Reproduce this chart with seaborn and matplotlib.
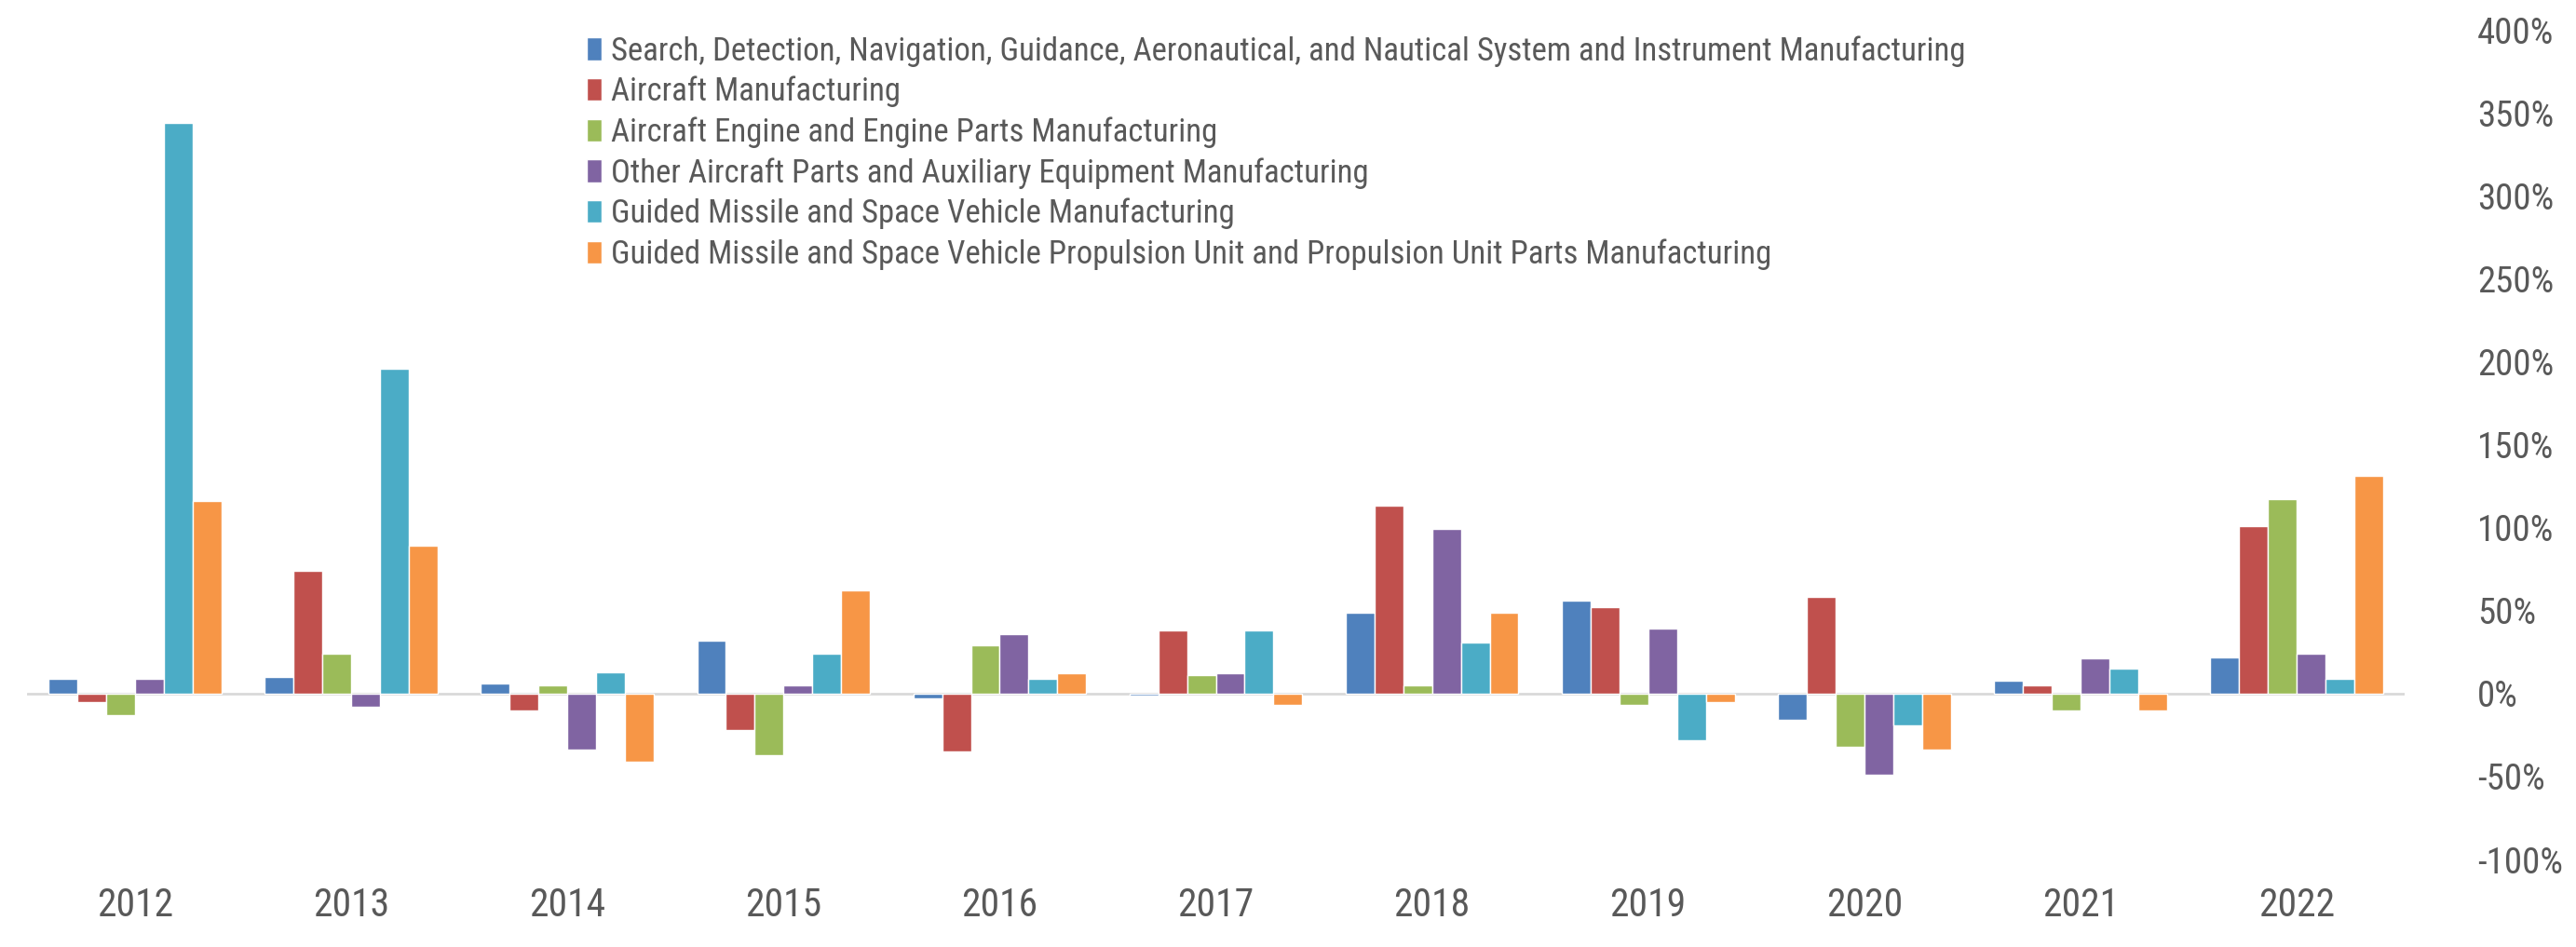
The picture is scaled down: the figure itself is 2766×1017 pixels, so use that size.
import numpy as np
import pandas as pd
import matplotlib.pyplot as plt
import seaborn as sns
from matplotlib.ticker import FuncFormatter

# ---- data (annual % change) ----
years = ["2012", "2013", "2014", "2015", "2016", "2017", "2018", "2019", "2020", "2021", "2022"]

series_names = [
    "Search, Detection, Navigation, Guidance, Aeronautical, and Nautical System and Instrument Manufacturing",
    "Aircraft Manufacturing",
    "Aircraft Engine and Engine Parts Manufacturing",
    "Other Aircraft Parts and Auxiliary Equipment Manufacturing",
    "Guided Missile and Space Vehicle Manufacturing",
    "Guided Missile and Space Vehicle Propulsion Unit and Propulsion Unit Parts Manufacturing",
]

search_nav = [9, 10, 6, 32, -3, -1, 49, 56, -16, 8, 22]
aircraft = [-5, 74, -10, -22, -35, 38, 113, 52, 58, 5, 101]
engine = [-13, 24, 5, -37, 29, 11, 5, -7, -32, -10, 117]
other_parts = [9, -8, -34, 5, 36, 12, 99, 39, -49, 21, 24]
missile = [344, 196, 13, 24, 9, 38, 31, -28, -19, 15, 9]
propulsion = [116, 89, -41, 62, 12, -7, 49, -5, -34, -10, 131]

colors = ["#4F81BD", "#C0504D", "#9BBB59", "#8064A2", "#4BACC6", "#F79646"]
y_ticks = [-100, -50, 0, 50, 100, 150, 200, 250, 300, 350, 400]

all_values = [search_nav, aircraft, engine, other_parts, missile, propulsion]
df = pd.concat(
    [pd.DataFrame({"year": years, "series": name, "value": vals})
     for name, vals in zip(series_names, all_values)],
    ignore_index=True,
)

# ---- style ----
sns.set_style("white")
plt.rcParams["font.family"] = ["Roboto Condensed", "Liberation Sans", "DejaVu Sans"]
text_color = "#595959"

fig = plt.figure(figsize=(27.66, 10.17), dpi=100)
ax = fig.add_axes([0.0105, 0.0924, 0.923, 0.8761])

sns.barplot(
    data=df, x="year", y="value", hue="series", hue_order=series_names,
    palette=colors, saturation=1, width=0.8, edgecolor="white", linewidth=1, ax=ax,
)

# zero line
ax.axhline(0, color="#D9D9D9", linewidth=2, zorder=0)

ax.set_ylim(-100, 400)
ax.set_xlim(-0.5, len(years) - 0.5)
ax.set_yticks(y_ticks)
ax.yaxis.set_major_formatter(FuncFormatter(lambda v, p: f"{v:.0f}%"))
ax.yaxis.tick_right()
ax.tick_params(axis="y", length=0, pad=56, labelsize=28, labelcolor=text_color)
ax.tick_params(axis="x", length=0, pad=21, labelsize=30, labelcolor=text_color)
for lab in ax.get_yticklabels():
    lab.set_horizontalalignment("left")
ax.set_xlabel("")
ax.set_ylabel("")
sns.despine(ax=ax, left=True, bottom=True, right=True, top=True)

# legend at the top centre
handles, labels = ax.get_legend_handles_labels()
ax.get_legend().remove()
fig.legend(
    handles, labels, loc="upper left", bbox_to_anchor=(630 / 2766, 1 - 38 / 1017),
    bbox_transform=fig.transFigure, frameon=False, fontsize=25,
    labelcolor=text_color, handlelength=0.45, handleheight=0.7,
    handletextpad=0.3, labelspacing=0.29, borderpad=0, borderaxespad=0,
)

fig.savefig("out.png", dpi=100)
